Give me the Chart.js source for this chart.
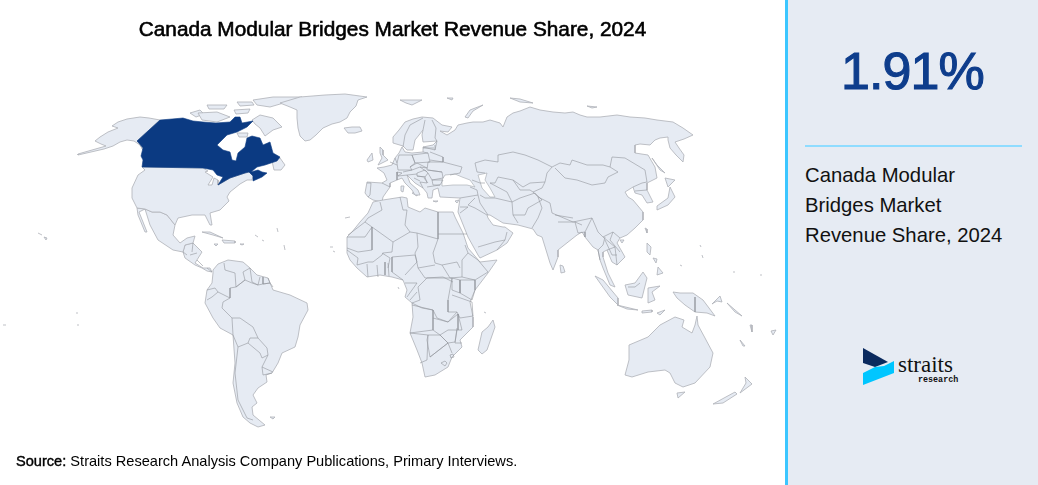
<!DOCTYPE html>
<html><head><meta charset="utf-8">
<script src="https://cdn.jsdelivr.net/npm/chart.js@4"></script>
<style>
html,body{margin:0;padding:0;background:#fff;width:1038px;height:485px;overflow:hidden;font-family:"Liberation Sans",Arial,sans-serif}
#wrap{position:absolute;left:0;top:0;width:785px;height:485px}
.t{position:absolute;white-space:nowrap;color:#000}
#panel{position:absolute;left:785px;top:0;width:253px;height:485px;background:#e6ebf3;border-left:3px solid #3cc6ff;box-sizing:border-box}
</style></head><body>
<div id="wrap"><canvas id="c" width="785" height="485"></canvas></div>
<div class="t" id="title" style="left:0;width:785px;top:17px;text-align:center;font-size:20.8px;line-height:24px;-webkit-text-stroke:.6px #000"></div>
<div class="t" id="source" style="left:16px;top:453px;font-size:14.6px"></div>
<div id="panel"></div>
<div class="t" id="value" style="left:785px;width:253px;text-align:center;padding-left:1px;top:40px;font-size:52px;line-height:62px;letter-spacing:-.9px;color:#0e3d8c;-webkit-text-stroke:1.1px #0e3d8c"></div>
<div style="position:absolute;left:805px;top:145px;width:217px;height:2px;background:#8fdcff"></div>
<div class="t" id="label" style="left:805px;top:160px;font-size:20.3px;line-height:30px;color:#111"></div>
<svg style="position:absolute;left:860px;top:345px" width="40" height="44"><polygon points="3,3 28,17 15,22 3,18" fill="#0a2a5e"/><polygon points="34,16 34,28 3,40 3,28 15,22 24,21" fill="#00c6ff"/></svg>
<div class="t" style="left:898px;top:352px;font-family:'Liberation Serif',serif;font-size:23px;color:#111" id="logo1"></div>
<div class="t" style="left:918px;top:375px;font-family:'Liberation Mono',monospace;font-size:8.4px;font-weight:bold;color:#111" id="logo2"></div>
<script>
// Texts
const titleText="Canada Modular Bridges Market Revenue Share, 2024";
const sourceBold="Source:";
const sourceRest=" Straits Research Analysis Company Publications, Primary Interviews.";
const shareValue="1.91%";
const shareLabel=["Canada Modular","Bridges Market","Revenue Share, 2024"];

// Map outlines: flat x,y lists, in map units
const canada=[137,141,160,120,172,119,183,118,193,121,203,122,216,123,230,122,235,117,240,117,242,123,253,121,247,127,237,132,227,135,217,145,223,150,230,152,232,160,236,161,238,153,245,147,247,138,252,136,260,138,263,145,270,142,273,153,280,157,277,161,265,165,257,167,251,172,258,170,262,172,267,173,262,177,253,181,253,176,249,172,245,173,230,178,218,185,223,177,217,175,213,170,203,168,142,167,143,160,141,156,143,148,138,142];
const usa=[142,167,203,168,208,171,205,172,213,177,208,185,212,185,214,178,218,180,218,185,230,178,245,173,249,172,253,176,252,180,247,180,240,184,230,192,227,197,229,201,220,210,210,213,212,225,210,225,205,215,192,215,178,218,175,225,167,215,160,212,152,212,145,209,137,208,132,198,132,188,138,175,145,170];
const alaska=[137,141,160,120,149,118,140,117,127,119,118,122,112,126,118,128,108,132,100,137,95,141,101,144,106,146,78,154,78,155,104,149,113,146,120,142,127,140,134,141,140,145,143,150,139,143];
const greenland=[280,103,300,97,325,95,345,94,367,97,358,100,356,106,350,112,347,118,340,122,332,124,323,128,316,135,310,140,305,141,300,136,298,128,297,118,297,110,290,107];
const iceland=[344,128,352,127,360,127,362,131,355,133,348,133];
const ellesmere=[253,100,273,97,302,97,287,102,270,107,257,105];
const devon=[237,102,252,102,254,105,240,106];
const victoria=[198,113,217,112,230,117,217,122,202,120];
const banks=[190,113,200,110,204,114,196,117];
const melville=[207,105,227,105,224,109,209,109];
const somerset=[234,110,250,109,248,113,236,114];
const baffin=[252,120,260,115,273,118,282,127,273,130,265,136,260,128,255,124];
const southampton=[237,133,248,133,247,137,239,137];
const newfoundland=[272,161,280,158,285,165,281,170,274,170];
const mexico=[137,208,145,209,152,212,160,212,167,215,175,225,173,235,180,243,187,238,195,236,193,243,185,245,183,252,173,250,158,240,150,225,145,209,139,212,147,232,145,232,138,215];
const centralAmerica=[183,252,185,245,193,243,202,252,195,263,203,268,210,268,212,272,207,271,202,268,195,265,185,258];
const cuba=[202,232,210,232,223,238,213,235];
const hispaniola=[222,240,235,241,235,243,224,243];
const jamaica=[214,244,218,244,216,246];
const puertoRico=[240,244,244,244,242,245];
const southAmerica=[213,270,218,264,228,260,243,262,250,268,257,275,268,278,273,290,290,295,307,303,308,310,300,325,298,337,295,347,282,353,278,363,272,373,266,375,267,382,258,388,253,395,257,403,252,407,253,415,265,425,258,427,250,423,243,417,237,403,233,383,235,363,233,335,220,328,213,318,205,303,207,290,212,283,213,273];
const africa=[373,202,383,200,402,197,407,198,408,207,420,212,425,208,438,212,453,212,455,217,463,233,468,248,480,262,497,260,488,273,475,290,470,302,473,317,473,327,460,340,462,347,452,357,448,367,435,375,425,377,422,363,417,350,410,333,413,317,412,303,405,297,407,290,403,280,392,277,380,275,367,277,357,268,350,260,347,253,347,237,352,232,360,222,368,213];
const madagascar=[493,320,495,327,487,350,482,354,478,350,482,332,488,327];
const eurasia=[367,182,382,183,387,180,384,173,377,168,384,167,392,165,395,158,399,153,402,147,405,152,412,153,423,152,423,147,433,145,437,141,423,142,422,135,423,130,415,140,413,150,407,150,403,146,393,143,393,137,399,130,405,122,413,119,422,117,433,118,442,125,452,127,448,132,440,131,447,135,455,130,458,125,467,123,473,122,483,122,490,120,500,123,503,127,505,122,507,117,513,113,520,111,530,107,540,110,553,112,565,113,573,112,580,115,587,117,600,117,617,115,630,117,645,118,657,120,673,122,683,128,693,135,684,139,675,142,679,148,684,155,683,162,676,155,670,148,668,140,668,137,660,138,655,140,650,145,640,144,635,145,635,153,648,155,655,167,657,178,647,183,647,190,653,202,647,203,642,195,635,193,633,187,625,192,628,197,633,200,643,212,643,220,635,228,627,235,620,238,617,243,625,257,617,265,612,262,607,250,603,252,603,257,608,273,615,287,610,285,603,268,600,260,598,250,593,247,585,237,582,232,577,235,558,250,558,257,553,270,550,263,542,237,537,235,533,229,518,225,503,223,490,215,487,215,488,218,493,225,503,227,505,227,513,233,507,243,497,250,480,258,478,255,468,237,460,217,458,212,460,198,440,197,438,188,433,190,432,198,428,198,427,193,423,188,415,183,407,175,410,183,418,190,420,195,415,195,412,190,405,183,402,178,397,180,390,183,390,187,383,197,382,202,373,200,368,197,365,193];
const caspian=[478,175,487,173,485,180,490,188,495,197,490,197,482,188];
const blackSea=[442,180,445,175,455,174,462,177,470,180,475,187,467,185,453,185,442,186];
const uk=[380,147,383,150,383,155,388,160,378,165,382,158,380,153];
const ireland=[367,160,372,153,373,160,368,162];
const svalbard=[400,100,422,100,412,105,406,103];
const franzJosef=[447,98,453,98,452,100];
const novayaZemlya=[465,117,470,110,483,105,473,111,468,118];
const severnaya=[510,98,520,99,533,103,520,102];
const newSiberian=[587,106,597,107,592,108];
const sakhalin=[652,158,657,165,665,173,660,170];
const hokkaido=[665,178,675,180,668,187];
const honshu=[670,187,675,197,668,205,657,210,657,206,668,198];
const taiwan=[645,228,647,229,647,233];
const hainan=[620,240,624,240,622,243];
const sriLanka=[560,265,563,266,565,272,561,273];
const sardinia=[401,186,404,186,403,192,401,191];
const sicily=[412,193,418,192,417,196];
const crete=[433,201,438,201,436,202];
const cyprus=[455,201,459,200,457,203];
const luzon=[647,243,651,247,650,255,647,252];
const visayas=[653,258,657,259,656,263];
const mindanao=[658,267,663,273,657,275];
const borneo=[643,272,647,278,642,298,628,295,625,285,635,283];
const sumatra=[595,276,603,280,618,298,618,305,610,297];
const java=[617,305,638,310,627,309];
const sulawesi=[648,288,660,286,652,292,655,300,648,303];
const sunda=[642,311,652,310,652,312,642,313];
const timor=[657,313,665,310,660,315];
const newGuinea=[673,292,680,293,693,293,703,300,715,316,707,313,695,312,685,305,677,298];
const britain=[712,304,720,296,722,302,717,301];
const solomons=[727,303,742,316,735,312];
const australia=[697,316,698,325,705,338,713,353,710,367,695,383,683,387,675,383,670,373,665,370,648,372,632,377,625,375,629,360,629,345,648,337,660,325,675,317,684,320,682,327,692,333,695,325];
const tasmania=[677,393,685,392,678,398];
const nzSouth=[713,404,735,392,737,394,723,403];
const nzNorth=[745,377,752,384,740,393,746,383];
const newCaledonia=[740,340,745,346,743,346];
const vanuatu=[750,325,752,325,752,332];
const fiji=[771,331,776,330,773,335];
const hawaii=[44,237,47,238,46,240];
const falkland=[270,417,275,417,273,419];

// Tiny outlying islands: short dashes
const tinyIslands=[[38,233,42,235],[3,325,6,325],[76,313,78,313],[77,325,79,325],[330,247,333,247],[333,251,335,252],[345,218,350,217],[398,287,399,289],[484,312,486,313],[700,245,701,247],[702,255,703,258],[680,265,682,266],[733,272,735,272],[760,275,762,275],[255,235,258,237],[262,240,264,241],[277,228,278,232],[284,245,285,250]];

// Borders: polylines in map units
const bordersAmericas=[
[224,263,225,270,235,273,236,287,245,280,243,272,250,268],[250,268,252,282,258,285,260,277],[263,277,263,284,270,283,268,278],
[236,287,245,280,252,283,258,285,263,284,270,283,273,287],[236,287,230,288,230,298,223,302,222,308,232,318,240,318,253,327,258,338,267,348,268,355,262,367,273,372],
[207,290,215,288,218,292,212,297,207,300],[218,292,230,298],[232,318,233,335],[233,335,238,347,248,343,250,338,258,338],[248,343,260,353,262,358,268,355],
[238,347,235,373,238,400,247,418,253,420],[262,367,263,375,272,373],[197,253,190,255],[203,266,197,260],
[183,252,187,255],[193,243,192,252],[212,272,207,268]];
const bordersAfrica=[
[380,202,382,210,368,218,365,222,348,235],[365,222,372,227,393,242,410,232,405,225,407,210,403,210,400,197],[347,237,365,237,372,227,372,250,358,252,347,248],
[410,232,417,233,438,239],[438,212,438,239],[438,234,467,234],[393,242,392,252,383,253,382,255,373,262],[417,233,418,247,415,253,418,268],[392,257,415,255],
[438,239,433,253,435,263,442,265,457,262,460,268],[442,265,450,278,462,277],[418,268,425,278,443,277,453,282],[418,268,435,265],
[347,250,358,258,357,265,368,262,373,262],[367,264,368,277],[382,253,390,258,388,268],[377,265,378,277],[385,262,385,275],[388,263,389,276],
[392,257,392,272,403,280],[415,255,417,262,405,275],[405,283,417,283,407,297],[417,292,410,300],
[462,277,462,260,468,253,478,260,488,272,475,280,462,277],[468,253,465,245],[460,280,475,280,475,290,472,300,460,293,460,280],[452,278,460,280,460,293,452,290,452,278],
[427,278,452,278,448,300,448,312,457,312,448,322,437,318,433,310,422,308,412,303,420,300,418,287,427,278],
[452,295,472,302,473,316,460,318,457,312],[412,305,433,310,433,330,410,333],[433,318,448,322,458,314,458,330,448,330,440,335,433,330],
[458,314,462,330,458,330],[457,328,455,343,462,343],[440,335,448,343,455,342,457,330],[428,335,440,335,448,343,430,357,427,340,428,335],[410,333,428,335,427,360,420,363],[430,357,448,343,452,353],
[441,363,445,361,447,363,445,366,441,363],[450,355,453,354,454,357,451,358,450,355]];
const bordersAsia=[
[475,163,485,160,498,162,498,155,513,152,525,155,538,160,552,167,560,163,570,165,572,160,587,165,603,165,610,167,612,157,625,158,645,170,647,182,642,183],
[475,163,477,172,485,173],[490,183,495,183,498,177,513,180,523,187,530,183,545,182,547,173,552,167],[490,183,507,192,512,202],[513,180,520,190,530,190,533,192],
[555,168,565,178,577,180,592,185,605,183,608,177,618,172,610,167],[545,182,542,188,533,192,538,197,550,203,552,213,573,222,592,218,598,232,603,237,613,232,620,238],
[555,215,573,218],[480,195,485,198,495,198,512,202,513,215,518,223],[512,202,520,198,535,193,542,200,528,208,525,215,513,215],[538,197,542,208,538,218,532,228],
[478,195,480,203,488,215],[460,198,478,195],[470,187,477,190,478,195],[472,180,480,183,485,183],[475,198,468,205,475,208],[460,213,468,207],[468,207,460,207],[475,208,487,215],
[478,247,495,242,505,240,507,232],[497,250,505,240],
[575,222,578,233,585,232,585,237],[592,218,585,232],[605,237,603,245,598,250,600,260],[603,237,615,247,617,265],[607,250,615,247],[605,240,612,255,617,255],[613,232,610,240,620,252],[642,183,633,187],[647,190,635,191],[558,222,575,222,582,225],
[367,183,371,183,370,195,368,197],[382,183,390,187],[403,147,405,135,410,125,423,118],[423,130,425,120],[432,120,436,128,435,138,437,141],
[423,147,435,150,435,145],[423,148,434,148],[430,152,443,157,443,162,430,160],[428,162,443,162,462,167,460,173,450,175],[428,162,427,170,442,172],[412,155,428,153,430,162,415,163,412,155],
[399,155,412,155,415,163,410,167,412,170,398,170,397,163,399,155],[390,162,397,165],[395,158,397,163],[397,172,402,173,398,176,397,172],[403,172,412,170,420,167,427,172],[410,167,417,163,427,168,420,167],[417,173,425,170,428,173,425,177,417,176,417,173],[428,170,442,172,443,178,432,180,428,173],
[432,180,443,180,440,185,433,185,432,180],[417,176,425,177,427,183,420,182],[420,182,423,188],[427,187,440,185],[398,176,417,174],[397,172,397,180],[414,178,420,181],[424,178,428,183],[435,150,437,141],[428,153,423,152]];
const bordersOceania=[[695,297,695,312],[640,283,635,287,628,287]];
const landShapes=[canada];
const lightShapes=[usa,alaska,greenland,iceland,ellesmere,devon,victoria,banks,melville,somerset,baffin,southampton,newfoundland,mexico,centralAmerica,cuba,hispaniola,jamaica,puertoRico,southAmerica,africa,madagascar,eurasia,uk,ireland,svalbard,franzJosef,novayaZemlya,severnaya,newSiberian,sakhalin,hokkaido,honshu,taiwan,hainan,sriLanka,sardinia,sicily,crete,cyprus,luzon,visayas,mindanao,borneo,sumatra,java,sulawesi,sunda,timor,newGuinea,britain,solomons,australia,tasmania,nzSouth,nzNorth,newCaledonia,vanuatu,fiji,hawaii,falkland];

const pts=a=>{const o=[];for(let i=0;i<a.length;i+=2)o.push({x:a[i],y:a[i+1]});return o};
const closed=a=>pts(a.concat([a[0],a[1]]));
const LAND='#e6ebf3',COAST='#aeb1b8',BORDER='#92959c',HILITE='#0b3a82';
const line=(a,c,w)=>({data:pts(a),showLine:true,borderColor:c,borderWidth:w,pointRadius:0,fill:false,tension:0});
const shape=(a,f,c,w)=>({data:closed(a),showLine:true,borderColor:c,borderWidth:w,backgroundColor:f,pointRadius:0,fill:'shape',tension:0});
const datasets=[];
[...bordersAmericas,...bordersAfrica,...bordersAsia,...bordersOceania].forEach(b=>datasets.push(line(b,BORDER,.6)));
tinyIslands.forEach(b=>datasets.push(line(b,COAST,.8)));
landShapes.forEach(s=>datasets.push(shape(s,HILITE,HILITE,.6)));
datasets.push(shape(caspian,'#ffffff',COAST,.7));
datasets.push(shape(blackSea,'#ffffff',COAST,.7));
lightShapes.forEach(s=>datasets.push(shape(s,LAND,COAST,.8)));

new Chart(document.getElementById('c'),{type:'scatter',data:{datasets},options:{
 responsive:false,animation:false,events:[],layout:{padding:0},
 plugins:{legend:{display:false},tooltip:{enabled:false},title:{display:false}},
 scales:{x:{type:'linear',min:0,max:785,display:false},y:{type:'linear',min:0,max:485,reverse:true,display:false}}
}});
document.getElementById('title').textContent=titleText;
document.getElementById('source').innerHTML='<span style="-webkit-text-stroke:.4px #000">'+sourceBold+'</span>'+sourceRest;
document.getElementById('value').textContent=shareValue;
document.getElementById('label').innerHTML=shareLabel.join('<br>');
document.getElementById('logo1').textContent='straits';
document.getElementById('logo2').textContent='research';
</script></body></html>
